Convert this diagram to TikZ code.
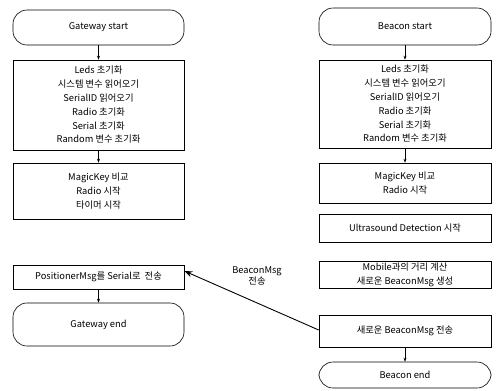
\documentclass[tikz,border=0pt]{standalone}
\usepackage{fontspec}
\setmainfont{Noto Sans CJK KR}
\usetikzlibrary{arrows.meta}
\begin{document}
\begin{tikzpicture}[x=1pt,y=-1pt,
  box/.style={draw,line width=0.6pt,inner sep=0pt,align=center,font=\fontsize{9.3}{13.8}\selectfont},
  term/.style={box,rounded corners=14pt},
  conn/.style={draw,line width=0.6pt,-{Stealth[length=4pt,width=3pt]}},
  bigconn/.style={draw,line width=0.9pt,-{Stealth[length=8pt,width=6pt]}}]
\useasboundingbox (0,0) rectangle (496,391);
% Gateway
\node[term,minimum width=171pt,minimum height=35pt] (gs) at (98.5,27.5) {Gateway start};
\node[box,minimum width=171pt,minimum height=90pt] (gi) at (98.5,105) {Leds 초기화\\시스템 변수 읽어오기\\SerialID 읽어오기\\Radio 초기화\\Serial 초기화\\Random 변수 초기화};
\node[box,minimum width=171pt,minimum height=56pt] (gm) at (98.5,191) {MagicKey 비교\\Radio 시작\\타이머 시작};
\node[box,minimum width=171pt,minimum height=24pt] (gp) at (98.5,277) {PositionerMsg를 Serial로 \ 전송};
\node[term,minimum width=171pt,minimum height=43pt] (ge) at (98.5,324.5) {Gateway end};
% Beacon
\node[term,minimum width=172pt,minimum height=37pt] (bs) at (405,26.5) {Beacon start};
\node[box,minimum width=172pt,minimum height=88pt] (bi) at (405,104) {Leds 초기화\\시스템 변수 읽어오기\\SerialID 읽어오기\\Radio 초기화\\Serial 초기화\\Random 변수 초기화};
\node[box,minimum width=172pt,minimum height=40pt] (bm) at (405,183) {MagicKey 비교\\Radio 시작};
\node[box,minimum width=172pt,minimum height=28pt] (bu) at (405,228) {Ultrasound Detection 시작};
\node[box,minimum width=172pt,minimum height=27pt] (bc) at (405,274.5) {Mobile과의 거리 계산\\새로운 BeaconMsg 생성};
\node[box,minimum width=172pt,minimum height=32pt] (bt) at (405,331) {새로운 BeaconMsg 전송};
\node[term,minimum width=172pt,minimum height=26pt] (be) at (405,375) {Beacon end};
% connectors
\draw[conn] (gs) -- (gi);
\draw[conn] (gi) -- (gm);
\draw[conn] (gp) -- (ge);
\draw[conn] (bs) -- (bi);
\draw[conn] (bi) -- (bm);
\draw[conn] (bt) -- (be);
\coordinate (bl) at ([yshift=1pt]bt.west);
\coordinate (gr) at ([yshift=6pt]gp.east);
\draw[bigconn] (bl) -- (gr);
\node[font=\fontsize{9.3}{11.5}\selectfont,align=center] (lbl) at (257,276) {BeaconMsg\\전송};
\end{tikzpicture}
\end{document}
